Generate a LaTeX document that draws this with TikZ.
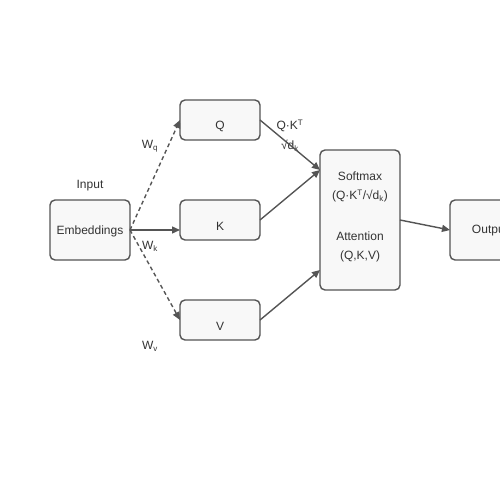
\documentclass[tikz,border=0pt]{standalone}
\usepackage{fontspec}
\setmainfont{Liberation Sans}
\usetikzlibrary{arrows.meta}
\definecolor{edge}{HTML}{555555}
\definecolor{boxfill}{HTML}{F8F8F8}
\definecolor{txt}{HTML}{333333}
\begin{document}
\begin{tikzpicture}[x=1pt,y=-1pt,
  box/.style={draw=edge,fill=boxfill,line width=1.4pt,rounded corners=5pt},
  lbl/.style={text=txt,font=\fontsize{12}{14}\selectfont,inner sep=0pt},
  conn/.style={draw=edge,line width=1.4pt,-{Triangle[length=8pt,width=7pt]}},
  dconn/.style={conn,dash pattern=on 4pt off 3pt}]
\useasboundingbox (0,0) rectangle (500,500);
\fill[white] (0,0) rectangle (500,500);
\begin{scope}
\clip (0,0) rectangle (500,500);
\draw[box] (50,200) rectangle (130,260);
\draw[box] (180,100) rectangle (260,140);
\draw[box] (180,200) rectangle (260,240);
\draw[box] (180,300) rectangle (260,340);
\draw[box] (320,150) rectangle (400,290);
\draw[box] (450,200) rectangle (530,260);
\node[lbl] (tout) at (490,231) {Output};
\end{scope}
\coordinate (embR) at (130,230);
\coordinate (qL) at (180,120);
\coordinate (kL) at (180,230);
\coordinate (vL) at (180,320);
\coordinate (qR) at (260,120);
\coordinate (kR) at (260,220);
\coordinate (vR) at (260,320);
\coordinate (attA) at (320,170);
\coordinate (attB) at (320,270);
\coordinate (attR) at (400,220);
\coordinate (outL) at (450,230);
\node[lbl] (tin) at (90,186) {Input};
\node[lbl] (temb) at (90,231) {Embeddings};
\node[lbl] (tq) at (220,126) {Q};
\node[lbl] (tk) at (220,226) {K};
\node[lbl] (tv) at (220,326) {V};
\node[lbl] (ts1) at (360,176) {Softmax};
\node[lbl] (ts2) at (360,196) {(Q·K\textsuperscript{T}/√d\textsubscript{k})};
\node[lbl] (ta1) at (360,236) {Attention};
\node[lbl] (ta2) at (360,256) {(Q,K,V)};
\node[lbl] (wq) at (150,146) {W\textsubscript{q}};
\node[lbl] (wk) at (150,246) {W\textsubscript{k}};
\node[lbl] (wv) at (150,346) {W\textsubscript{v}};
\node[lbl] (qk1) at (290,126) {Q·K\textsuperscript{T}};
\node[lbl] (qk2) at (290,146) {√d\textsubscript{k}};
\draw[dconn] (embR) -- (qL);
\draw[conn] (embR) -- (kL);
\draw[dconn] (embR) -- (vL);
\draw[conn] (qR) -- (attA);
\draw[conn] (kR) -- (attA);
\draw[conn] (vR) -- (attB);
\draw[conn] (attR) -- (outL);
\end{tikzpicture}
\end{document}
